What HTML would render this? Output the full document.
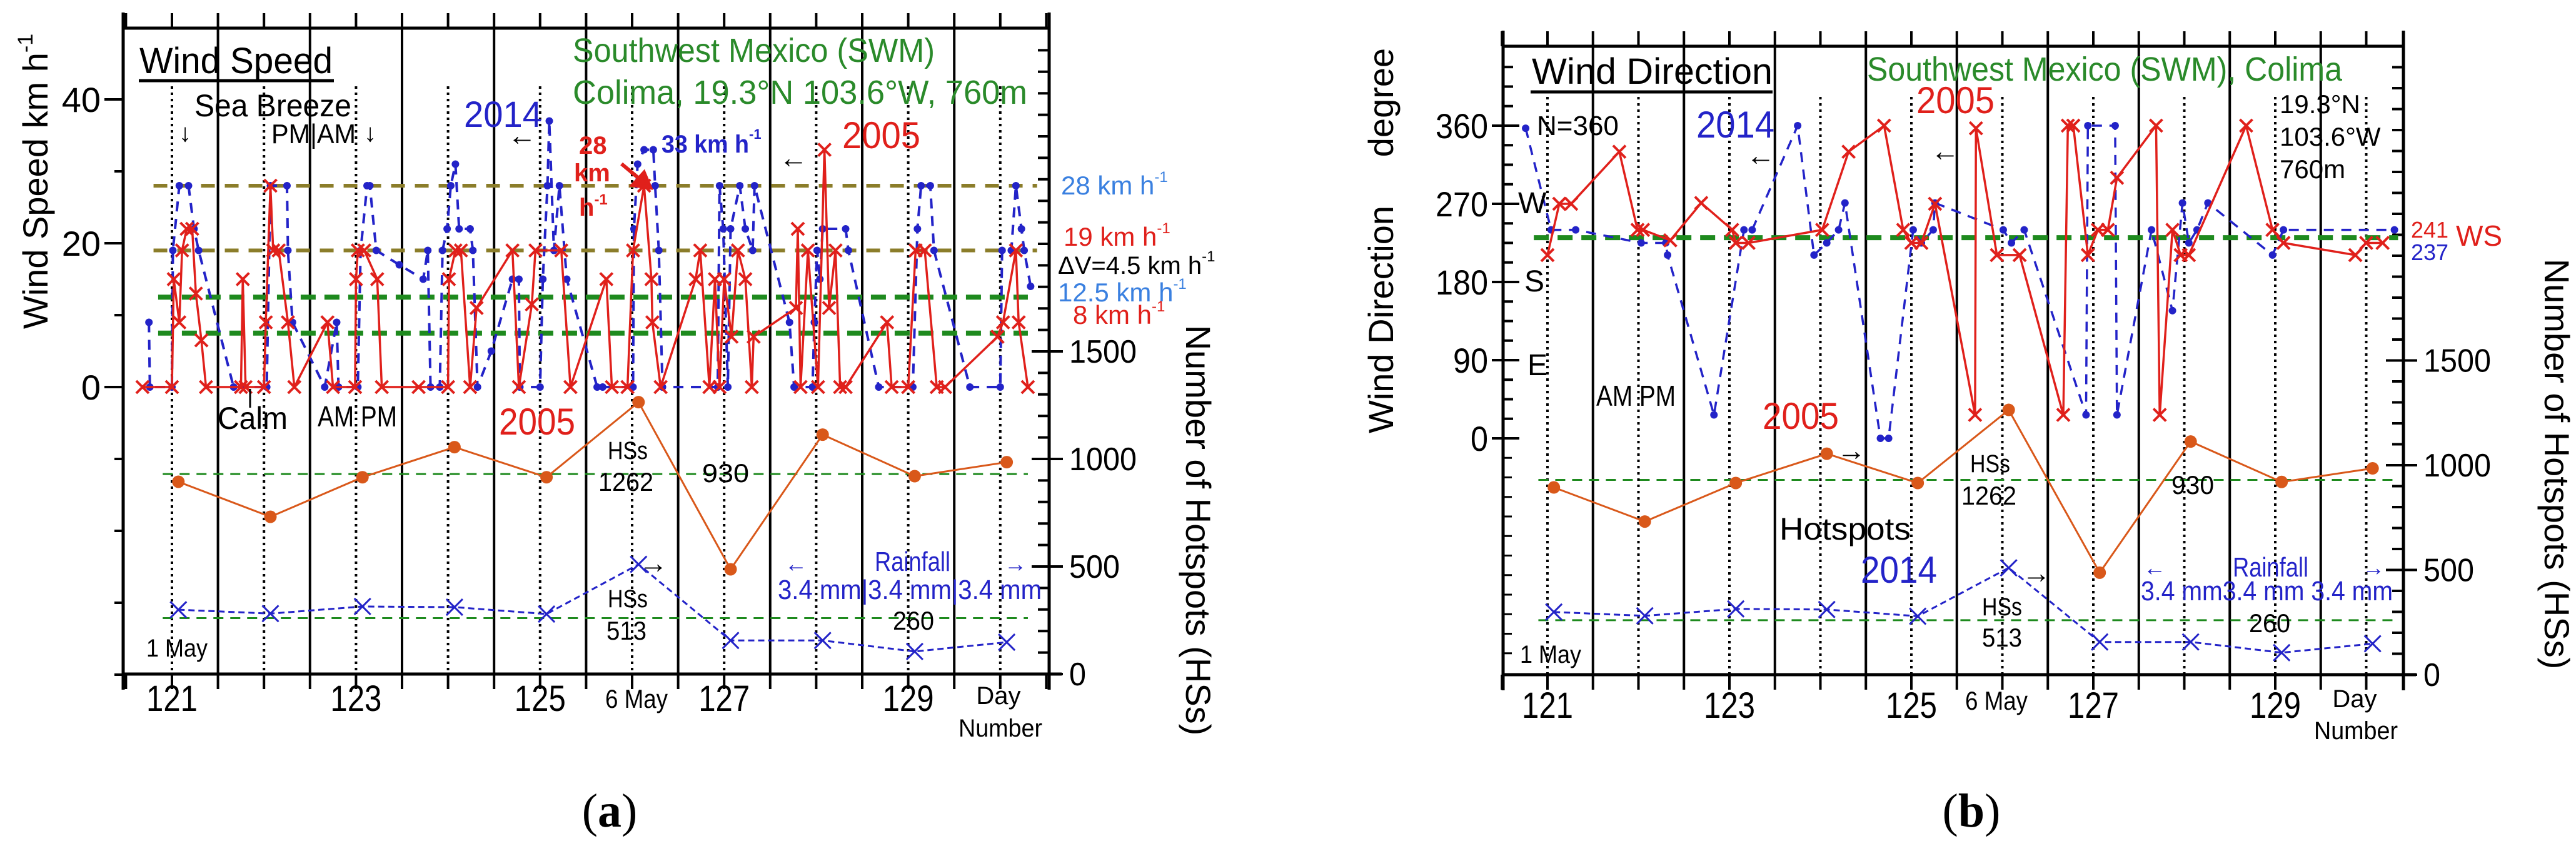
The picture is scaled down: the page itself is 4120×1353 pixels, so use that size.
<!DOCTYPE html>
<html><head><meta charset="utf-8"><style>
html,body{margin:0;padding:0;background:#fff;}
svg{display:block;font-family:"Liberation Sans",sans-serif;}
</style></head><body>
<svg id="fig" width="4120" height="1353" viewBox="0 0 4120 1353" xmlns="http://www.w3.org/2000/svg">
<g id="gA"></g>
<g id="gB"></g>
<g id="txt" font-family="Liberation Sans, sans-serif">
<!-- Panel A text -->
<text x="223" y="117" font-size="58" textLength="309" lengthAdjust="spacingAndGlyphs">Wind Speed</text>
<line x1="222" y1="129" x2="534" y2="129" stroke="#000" stroke-width="5"/>
<text x="311" y="186" font-size="50" textLength="251" lengthAdjust="spacingAndGlyphs">Sea Breeze</text>
<text x="286" y="226" font-size="40">↓</text>
<text x="434" y="229" font-size="44" textLength="135" lengthAdjust="spacingAndGlyphs">PM|AM</text>
<text x="582" y="226" font-size="40">↓</text>
<text x="916" y="99" font-size="54" fill="#2a8a2a" textLength="579" lengthAdjust="spacingAndGlyphs">Southwest Mexico (SWM)</text>
<text x="916" y="166" font-size="54" fill="#2a8a2a" textLength="727" lengthAdjust="spacingAndGlyphs">Colima, 19.3°N 103.6°W, 760m</text>
<text x="742" y="203" font-size="58" fill="#2323c8" textLength="125" lengthAdjust="spacingAndGlyphs">2014</text>
<text x="812" y="232" font-size="46">←</text>
<text x="926" y="246" font-size="40" font-weight="bold" fill="#e0201b">28</text>
<text x="918" y="290" font-size="40" font-weight="bold" fill="#e0201b">km</text>
<text x="926" y="345" font-size="40" font-weight="bold" fill="#e0201b">h<tspan font-size="24" dy="-18">-1</tspan></text>
<path d="M994 262 L1030 292 M1040 300 L1012 296 L1030 276 Z" stroke="#e0201b" stroke-width="6" fill="#e0201b"/>
<text x="1058" y="244" font-size="40" font-weight="bold" fill="#2323c8" textLength="140" lengthAdjust="spacingAndGlyphs">33 km h</text>
<text x="1198" y="222" font-size="22" font-weight="bold" fill="#2323c8">-1</text>
<text x="1246" y="268" font-size="46">←</text>
<text x="1347" y="237" font-size="60" fill="#e0201b" textLength="125" lengthAdjust="spacingAndGlyphs">2005</text>
<text x="1697" y="311" font-size="42" fill="#3a80e0">28 km h<tspan font-size="24" dy="-20">-1</tspan></text>
<text x="1701" y="393" font-size="42" fill="#e0201b">19 km h<tspan font-size="24" dy="-20">-1</tspan></text>
<text x="1692" y="438" font-size="40" fill="#000">ΔV=4.5 km h<tspan font-size="24" dy="-20">-1</tspan></text>
<text x="1692" y="482" font-size="42" fill="#3a80e0">12.5 km h<tspan font-size="24" dy="-20">-1</tspan></text>
<text x="1716" y="518" font-size="42" fill="#e0201b">8 km h<tspan font-size="24" dy="-20">-1</tspan></text>
<text transform="translate(76,290) rotate(-90)" text-anchor="middle" font-size="56">Wind Speed  km h<tspan font-size="34" dy="-24">-1</tspan></text>
<text transform="translate(1897,848) rotate(90)" text-anchor="middle" font-size="56">Number of Hotspots (HSs)</text>
<text x="348" y="686" font-size="50" textLength="112" lengthAdjust="spacingAndGlyphs">Calm</text>
<line x1="400" y1="652" x2="400" y2="622" stroke="#000" stroke-width="3"/>
<text x="508" y="682" font-size="46" textLength="127" lengthAdjust="spacingAndGlyphs">AM PM</text>
<text x="798" y="695" font-size="60" fill="#e0201b" textLength="122" lengthAdjust="spacingAndGlyphs">2005</text>
<text x="972" y="734" font-size="40" textLength="64" lengthAdjust="spacingAndGlyphs">HSs</text>
<text x="957" y="785" font-size="42" textLength="88" lengthAdjust="spacingAndGlyphs">1262</text>
<text x="1123" y="771" font-size="42" textLength="75" lengthAdjust="spacingAndGlyphs">930</text>
<text x="1255" y="914" font-size="36" fill="#2323c8">←</text>
<text x="1399" y="913" font-size="44" fill="#2323c8" textLength="121" lengthAdjust="spacingAndGlyphs">Rainfall</text>
<text x="1606" y="914" font-size="36" fill="#2323c8">→</text>
<text x="1244" y="958" font-size="44" fill="#2323c8" textLength="422" lengthAdjust="spacingAndGlyphs">3.4 mm|3.4 mm|3.4 mm</text>
<text x="1022" y="916" font-size="46">→</text>
<text x="972" y="971" font-size="40" textLength="64" lengthAdjust="spacingAndGlyphs">HSs</text>
<text x="970" y="1023" font-size="42" textLength="64" lengthAdjust="spacingAndGlyphs">513</text>
<text x="1428" y="1007" font-size="42" textLength="66" lengthAdjust="spacingAndGlyphs">260</text>
<text x="234" y="1050" font-size="40" textLength="98" lengthAdjust="spacingAndGlyphs">1 May</text>
<text x="1018" y="1132" font-size="42" text-anchor="middle" textLength="100" lengthAdjust="spacingAndGlyphs">6 May</text>
<text x="1597" y="1126" font-size="40" text-anchor="middle">Day</text>
<text x="1600" y="1178" font-size="40" text-anchor="middle" textLength="134" lengthAdjust="spacingAndGlyphs">Number</text>
<text x="975" y="1322" font-size="76" text-anchor="middle" font-family="Liberation Serif, serif">(<tspan font-weight="bold">a</tspan>)</text>
<!-- Panel B text -->
<text x="2450" y="134" font-size="58" textLength="385" lengthAdjust="spacingAndGlyphs">Wind Direction</text>
<line x1="2448" y1="147" x2="2835" y2="147" stroke="#000" stroke-width="5"/>
<text x="2986" y="129" font-size="54" fill="#2a8a2a" textLength="760" lengthAdjust="spacingAndGlyphs">Southwest Mexico (SWM), Colima</text>
<text x="3065" y="181" font-size="60" fill="#e0201b" textLength="125" lengthAdjust="spacingAndGlyphs">2005</text>
<text x="2713" y="220" font-size="60" fill="#2323c8" textLength="125" lengthAdjust="spacingAndGlyphs">2014</text>
<text x="2458" y="216" font-size="44">N=360</text>
<text x="2793" y="264" font-size="46">←</text>
<text x="3088" y="257" font-size="46">←</text>
<text x="3646" y="181" font-size="42">19.3°N</text>
<text x="3646" y="233" font-size="42">103.6°W</text>
<text x="3646" y="285" font-size="42">760m</text>
<text x="2428" y="341" font-size="48">W</text>
<text x="2438" y="466" font-size="48">S</text>
<text x="2443" y="600" font-size="48">E</text>
<text x="3856" y="380" font-size="36" fill="#e0201b">241</text>
<text x="3928" y="393" font-size="46" fill="#e0201b">WS</text>
<text x="3856" y="416" font-size="36" fill="#2323c8">237</text>
<text transform="translate(2228,511) rotate(-90)" text-anchor="middle" font-size="56">Wind Direction</text>
<text transform="translate(2228,164) rotate(-90)" text-anchor="middle" font-size="56">degree</text>
<text transform="translate(4070,742) rotate(90)" text-anchor="middle" font-size="56">Number of Hotspots (HSs)</text>
<text x="2553" y="649" font-size="46" textLength="127" lengthAdjust="spacingAndGlyphs">AM PM</text>
<text x="2819" y="686" font-size="60" fill="#e0201b" textLength="122" lengthAdjust="spacingAndGlyphs">2005</text>
<text x="2938" y="736" font-size="46">→</text>
<text x="3151" y="755" font-size="40" textLength="64" lengthAdjust="spacingAndGlyphs">HSs</text>
<text x="3137" y="807" font-size="42" textLength="88" lengthAdjust="spacingAndGlyphs">1262</text>
<text x="3473" y="790" font-size="42" textLength="68" lengthAdjust="spacingAndGlyphs">930</text>
<text x="2846" y="863" font-size="50" textLength="210" lengthAdjust="spacingAndGlyphs">Hotspots</text>
<text x="2976" y="932" font-size="60" fill="#2323c8" textLength="122" lengthAdjust="spacingAndGlyphs">2014</text>
<text x="3234" y="932" font-size="46">→</text>
<text x="3170" y="984" font-size="40" textLength="64" lengthAdjust="spacingAndGlyphs">HSs</text>
<text x="3170" y="1034" font-size="42" textLength="64" lengthAdjust="spacingAndGlyphs">513</text>
<text x="3428" y="920" font-size="36" fill="#2323c8">←</text>
<text x="3571" y="922" font-size="44" fill="#2323c8" textLength="121" lengthAdjust="spacingAndGlyphs">Rainfall</text>
<text x="3778" y="920" font-size="36" fill="#2323c8">→</text>
<text x="3424" y="960" font-size="44" fill="#2323c8" textLength="403" lengthAdjust="spacingAndGlyphs">3.4 mm3.4 mm 3.4 mm</text>
<text x="3597" y="1011" font-size="42" textLength="66" lengthAdjust="spacingAndGlyphs">260</text>
<text x="2431" y="1060" font-size="40" textLength="98" lengthAdjust="spacingAndGlyphs">1 May</text>
<text x="3193" y="1135" font-size="42" text-anchor="middle" textLength="100" lengthAdjust="spacingAndGlyphs">6 May</text>
<text x="3766" y="1131" font-size="40" text-anchor="middle">Day</text>
<text x="3768" y="1182" font-size="40" text-anchor="middle" textLength="134" lengthAdjust="spacingAndGlyphs">Number</text>
<text x="3153" y="1322" font-size="76" text-anchor="middle" font-family="Liberation Serif, serif">(<tspan font-weight="bold">b</tspan>)</text>
</g>
</svg>
<script>
// ---------- data ----------
const hsDays = [121.07,122.07,123.07,124.07,125.07,126.07,127.07,128.07,129.07,130.07];
const hs2005 = [894,731,915,1055,915,1264,487,1113,920,985];
const hs2014 = [299,281,314,311,279,510,156,156,105,148];
const hsRefLines = [930,260];
const dayTickLabels = ["121","123","125","127","129"];
const dayTickValues = [121,123,125,127,129];

const ws2005Days = [120.68,121.0,121.02,121.08,121.11,121.16,121.22,121.26,121.32,121.37,121.75,121.77,121.8,122.0,122.02,122.07,122.10,122.16,122.26,122.33,122.69,122.75,122.99,123.0,123.02,123.09,123.23,123.28,123.68,124.0,124.01,124.08,124.14,124.24,124.31,124.70,124.77,124.91,124.95,125.23,125.33,125.72,125.78,125.95,126.01,126.13,126.21,126.22,126.31,126.69,126.74,126.84,126.9,126.95,127.0,127.08,127.15,127.23,127.30,127.32,127.78,127.80,127.83,127.91,128.02,128.09,128.14,128.21,128.26,128.32,128.77,128.82,129.0,129.08,129.18,129.31,129.40,129.97,130.03,130.17,130.2,130.30];
const ws2005Vals = [0,0,15,9,19,22,22,13,6.5,0,0,15,0,0,9,28,19,19,9,0,9,0,0,15,19,19,15,0,0,0,15,19,19,0,11,19,0,11.5,19,19,0,15,0,0,19,28,15,9,0,15,19,0,15,0,15,7,19,15,0,7,11,22,0,19,0,33,11,19,0,0,9,0,0,19,19,0,0,7,9,19,9,0];
const ws2014Days = [120.75,120.76,121.0,121.01,121.08,121.18,121.24,121.29,121.67,122.03,122.07,122.25,122.26,122.31,122.66,122.79,122.81,123.02,123.05,123.12,123.15,123.22,123.47,123.73,123.78,123.81,123.91,123.94,123.99,124.03,124.08,124.12,124.24,124.27,124.32,124.47,124.70,124.77,124.78,125.0,125.03,125.08,125.10,125.15,125.21,125.29,125.62,125.68,126.01,126.02,126.06,126.13,126.23,126.25,126.29,126.33,126.93,126.95,126.99,127.04,127.07,127.17,127.23,127.31,127.33,127.71,127.76,127.96,127.98,128.01,128.04,128.07,128.32,128.35,128.68,129.05,129.10,129.14,129.24,129.28,129.67,130.0,130.02,130.12,130.17,130.23,130.26,130.33];
const ws2014Vals = [9,0,0,19,28,28,22,19,0,0,28,28,19,9,0,9,0,0,19,28,28,19,17,15,19,0,0,19,22,28,31,22,22,19,0,5,15,15,0,0,15,28,37,19,28,15,0,0,0,22,31,33,33,28,19,0,0,28,22,0,22,28,22,19,28,9,0,0,9,19,15,22,22,19,0,0,22,28,28,19,0,0,19,19,28,22,19,14];
const wsRefOlive = [28,19];
const wsRefGreen = [12.5,7.5];
const wsTickLabels = ["0","20","40"];
const wsTickValues = [0,20,40];

const wd2005Days = [121.0,121.13,121.26,121.79,121.99,122.05,122.35,122.69,123.03,123.07,123.21,124.02,124.31,124.70,124.91,125.0,125.11,125.26,125.70,125.71,125.94,126.19,126.67,126.72,126.78,126.94,127.05,127.16,127.26,127.69,127.73,127.87,127.96,128.05,128.68,128.97,129.09,129.88,130.0,130.18];
const wd2005Vals = [211,270,270,330,240,240,228,271,240,225,225,240,330,360,240,225,225,270,27,357,211,211,27,360,360,211,240,240,300,360,27,240,211,211,360,240,225,211,225,225];
const wd2014Days = [120.76,121.04,121.31,122.03,122.30,122.32,122.83,123.16,123.25,123.75,123.93,124.07,124.20,124.27,124.66,124.75,125.02,125.11,125.24,125.26,126.01,126.10,126.24,126.92,126.94,127.24,127.26,127.64,127.87,127.98,128.05,128.14,128.26,128.97,129.09,130.31];
const wd2014Vals = [357,240,240,225,225,211,27,240,240,360,211,225,240,271,0,0,240,225,240,271,240,225,240,27,360,360,27,240,147,271,225,240,271,211,240,240];
const wdRef = [231];
const wdTickLabels = ["0","90","180","270","360"];
const wdTickValues = [0,90,180,270,360];
const hsTickLabels = ["0","500","1000","1500"];
const hsTickValues = [0,500,1000,1500];

// ---------- scales ----------
const A = {x:d=>275+(d-121)*147.2, yL:v=>619-v*11.5, yR:h=>1078-h*0.344, left:197, right:1678, top:45, bottom:1078, vtop:138};
const B = {x:d=>2475+(d-121)*145.5, yL:v=>701-v*1.389, yR:h=>1079-h*0.335, left:2404, right:3844, top:74, bottom:1079, vtop:155};
const NS='http://www.w3.org/2000/svg';
function mk(parent,tag,attrs){const e=document.createElementNS(NS,tag);for(const k in attrs)e.setAttribute(k,attrs[k]);parent.appendChild(e);return e;}

function frame(g,S,isA){
  for(let d=121;d<=130;d++){
    const l=mk(g,'line',{x1:S.x(d),x2:S.x(d),y1:S.vtop,y2:S.bottom,stroke:'#000','stroke-width':4,'stroke-dasharray':'4 6'});
    
    
  }
  for(let d=120.5;d<=130.6;d+=1){
    const x=S.x(d); if(x>S.right-5||x<S.left+5) continue;
    const l=mk(g,'line',{x1:x,x2:x,y1:S.top,y2:S.bottom,stroke:'#000','stroke-width':4});
    
    
  }
  for(let d=120.5;d<=130.6;d+=0.5){
    const x=S.x(d); if(x>S.right+3||x<S.left-3) continue;
    const t=mk(g,'line',{x1:x,x2:x,y1:S.top-24,y2:S.top,stroke:'#000','stroke-width':4});
    
    
    const b=mk(g,'line',{x1:x,x2:x,y1:S.bottom,y2:S.bottom+24,stroke:'#000','stroke-width':4});
    
    
  }
  const fr=[[S.left,S.top,S.right,S.top],[S.left,S.bottom,S.right+20,S.bottom],[S.left,S.top-25,S.left,S.bottom+25],[S.right,S.top-25,S.right,S.bottom+25]];
  const names=['top-border','x-axis','y-axis-left','y-axis-right'];
  fr.forEach((c,i)=>{
    const l=mk(g,'line',{x1:c[0],y1:c[1],x2:c[2],y2:c[3],stroke:'#000','stroke-width':5});
    
    
  });
  dayTickValues.forEach((d,i)=>{
    const t=mk(g,'text',{x:S.x(d),y:isA?1137:1148,'font-size':58,'text-anchor':'middle',textLength:82,lengthAdjust:'spacingAndGlyphs'});
    t.textContent=dayTickLabels[i];
    
    
  });
  for(let h=0;h<=(isA?2900:3000);h+=100){
    const y=S.yR(h); if(y<S.top+5) continue;
    const major=h%500===0&&h<=1500;
    const l=mk(g,'line',{x1:S.right-(major?28:18),x2:S.right+(major?22:0),y1:y,y2:y,stroke:'#000','stroke-width':4});
    
    
  }
  hsTickValues.forEach((h,i)=>{
    const t=mk(g,'text',{x:S.right+32,y:S.yR(h)+18,'font-size':52,textLength:hsTickLabels[i].length*27,lengthAdjust:'spacingAndGlyphs'});
    t.textContent=hsTickLabels[i];
    
    
  });
  hsRefLines.forEach(h=>{
    const l=mk(g,'line',{x1:S.x(120.9),x2:S.x(130.3),y1:S.yR(h),y2:S.yR(h),stroke:'#1e8a1e','stroke-width':3,'stroke-dasharray':'16 11'});
    
    
  });
}

function xMark(g,x,y,s,color,w,name){
  const p=mk(g,'path',{d:`M${x-s} ${y-s}L${x+s} ${y+s}M${x-s} ${y+s}L${x+s} ${y-s}`,stroke:color,'stroke-width':w,fill:'none'});
  
  
}
function dot(g,x,y,r,color,name){
  const c=mk(g,'circle',{cx:x,cy:y,r:r,fill:color});
  
  
}
function series(g,S,days,vals,yf,opts){
  const pts=days.map((d,i)=>S.x(d).toFixed(1)+','+yf(vals[i]).toFixed(1)).join(' ');
  const pl=mk(g,'polyline',{points:pts,fill:'none',stroke:opts.color,'stroke-width':opts.w,'stroke-dasharray':opts.dash||'none','stroke-linejoin':'round'});
  
  
  days.forEach((d,i)=>{
    const x=S.x(d),y=yf(vals[i]);
    if(opts.mark==='x') xMark(g,x,y,opts.ms,opts.color,opts.mw||3,opts.name+'-point');
    else dot(g,x,y,opts.ms,opts.color,opts.name+'-point');
  });
}

// ---------- Panel A ----------
const gA=document.getElementById('gA');
frame(gA,A,true);
wsTickValues.forEach((v,i)=>{
  const l=mk(gA,'line',{x1:A.left-30,x2:A.left,y1:A.yL(v),y2:A.yL(v),stroke:'#000','stroke-width':4});
  
  
  const t=mk(gA,'text',{x:A.left-36,y:A.yL(v)+20,'font-size':56,'text-anchor':'end'});
  t.textContent=wsTickLabels[i];
  
  
});
[10,30,-10,-20,-30,-40].forEach(v=>{
  const l=mk(gA,'line',{x1:A.left-14,x2:A.left,y1:A.yL(v),y2:A.yL(v),stroke:'#000','stroke-width':4});
  
  
});
wsRefOlive.forEach(v=>{
  const l=mk(gA,'line',{x1:A.x(120.8),x2:A.x(130.4),y1:A.yL(v),y2:A.yL(v),stroke:'#8b7d2a','stroke-width':6,'stroke-dasharray':'22 16'});
  
  
});
wsRefGreen.forEach(v=>{
  const l=mk(gA,'line',{x1:A.x(120.85),x2:A.x(130.3),y1:A.yL(v),y2:A.yL(v),stroke:'#1e8a1e','stroke-width':8,'stroke-dasharray':'24 14'});
  
  
});
series(gA,A,ws2014Days,ws2014Vals,A.yL,{color:'#2323c8',w:4,dash:'16 12',mark:'dot',ms:6,name:'ws-2014'});
series(gA,A,ws2005Days,ws2005Vals,A.yL,{color:'#e0201b',w:3.5,mark:'x',ms:10,mw:4,name:'ws-2005'});
series(gA,A,hsDays,hs2005,A.yR,{color:'#d9581a',w:3,mark:'dot',ms:10,name:'hotspots-2005-a'});
series(gA,A,hsDays,hs2014,A.yR,{color:'#2323c8',w:3,dash:'10 6',mark:'x',ms:13,mw:3,name:'hotspots-2014-a'});

// ---------- Panel B ----------
const gB=document.getElementById('gB');
frame(gB,B,false);
for(let v=0;v<=450;v+=22.5){
  const y=B.yL(v); if(y<B.top+5) continue;
  const major=v%90===0;
  const l=mk(gB,'line',{x1:B.left-(major?18:0),x2:B.left+(major?26:16),y1:y,y2:y,stroke:'#000','stroke-width':4});
  
  
}
for(let v=-22.5;v>=-260;v-=22.5){
  const l=mk(gB,'line',{x1:B.left,x2:B.left+14,y1:B.yL(v),y2:B.yL(v),stroke:'#000','stroke-width':3});
  
  
}
wdTickValues.forEach((v,i)=>{
  const t=mk(gB,'text',{x:B.left-24,y:B.yL(v)+20,'font-size':56,'text-anchor':'end',textLength:wdTickLabels[i].length*28,lengthAdjust:'spacingAndGlyphs'});
  t.textContent=wdTickLabels[i];
  
  
});
wdRef.forEach(v=>{
  const l=mk(gB,'line',{x1:B.x(120.85),x2:B.x(130.35),y1:B.yL(v),y2:B.yL(v),stroke:'#1e8a1e','stroke-width':8,'stroke-dasharray':'24 14'});
  
  
});
series(gB,B,wd2014Days,wd2014Vals,B.yL,{color:'#2323c8',w:3.5,dash:'16 12',mark:'dot',ms:6,name:'wd-2014'});
series(gB,B,wd2005Days,wd2005Vals,B.yL,{color:'#e0201b',w:3.5,mark:'x',ms:10,mw:4,name:'wd-2005'});
series(gB,B,hsDays,hs2005,B.yR,{color:'#d9581a',w:3,mark:'dot',ms:10,name:'hotspots-2005-b'});
series(gB,B,hsDays,hs2014,B.yR,{color:'#2323c8',w:3,dash:'10 6',mark:'x',ms:13,mw:3,name:'hotspots-2014-b'});
</script>
</body></html>
